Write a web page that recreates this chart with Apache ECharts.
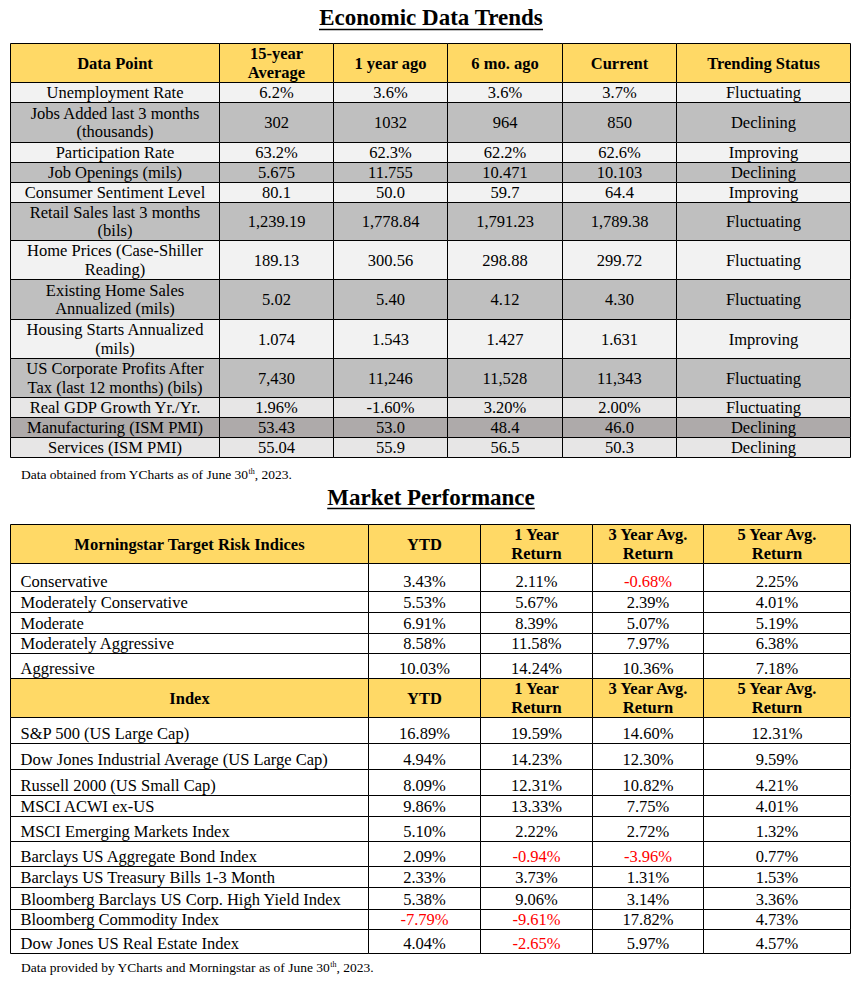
<!DOCTYPE html>
<html><head><meta charset="utf-8">
<script src="https://cdn.jsdelivr.net/npm/echarts@6/dist/echarts.min.js"></script>
<style>html,body{margin:0;padding:0;background:#fff}#chart{width:862px;height:981px}</style>
</head><body><div id="chart"></div><script>
const FONT = '"Liberation Serif", "Times New Roman", serif';

// ---------- DATA ----------
const econTitle = 'Economic Data Trends';
const econColumns = ['Data Point', '15-year\nAverage', '1 year ago', '6 mo. ago', 'Current', 'Trending Status'];
const econDataPoints = ['Unemployment Rate', 'Jobs Added last 3 months\n(thousands)', 'Participation Rate', 'Job Openings (mils)', 'Consumer Sentiment Level', 'Retail Sales last 3 months\n(bils)', 'Home Prices (Case-Shiller\nReading)', 'Existing Home Sales\nAnnualized (mils)', 'Housing Starts Annualized\n(mils)', 'US Corporate Profits After\nTax (last 12 months) (bils)', 'Real GDP Growth Yr./Yr.', 'Manufacturing (ISM PMI)', 'Services (ISM PMI)'];
const econAvg15 = ['6.2%', '302', '63.2%', '5.675', '80.1', '1,239.19', '189.13', '5.02', '1.074', '7,430', '1.96%', '53.43', '55.04'];
const econYearAgo = ['3.6%', '1032', '62.3%', '11.755', '50.0', '1,778.84', '300.56', '5.40', '1.543', '11,246', '-1.60%', '53.0', '55.9'];
const econSixMoAgo = ['3.6%', '964', '62.2%', '10.471', '59.7', '1,791.23', '298.88', '4.12', '1.427', '11,528', '3.20%', '48.4', '56.5'];
const econCurrent = ['3.7%', '850', '62.6%', '10.103', '64.4', '1,789.38', '299.72', '4.30', '1.631', '11,343', '2.00%', '46.0', '50.3'];
const econTrend = ['Fluctuating', 'Declining', 'Improving', 'Declining', 'Improving', 'Fluctuating', 'Fluctuating', 'Fluctuating', 'Improving', 'Fluctuating', 'Fluctuating', 'Declining', 'Declining'];
const econNote = ['Data obtained from YCharts as of June 30', 'th', ', 2023.'];

const marketTitle = 'Market Performance';
const riskColumns = ['Morningstar Target Risk Indices', 'YTD', '1 Year\nReturn', '3 Year Avg.\nReturn', '5 Year Avg.\nReturn'];
const riskIndices = ['Conservative', 'Moderately Conservative', 'Moderate', 'Moderately Aggressive', 'Aggressive'];
const riskYTD = ['3.43%', '5.53%', '6.91%', '8.58%', '10.03%'];
const risk1Y = ['2.11%', '5.67%', '8.39%', '11.58%', '14.24%'];
const risk3Y = ['-0.68%', '2.39%', '5.07%', '7.97%', '10.36%'];
const risk5Y = ['2.25%', '4.01%', '5.19%', '6.38%', '7.18%'];

const indexColumns = ['Index', 'YTD', '1 Year\nReturn', '3 Year Avg.\nReturn', '5 Year Avg.\nReturn'];
const indexNames = ['S&P 500 (US Large Cap)', 'Dow Jones Industrial Average (US Large Cap)', 'Russell 2000 (US Small Cap)', 'MSCI ACWI ex-US', 'MSCI Emerging Markets Index', 'Barclays US Aggregate Bond Index', 'Barclays US Treasury Bills 1-3 Month', 'Bloomberg Barclays US Corp. High Yield Index', 'Bloomberg Commodity Index', 'Dow Jones US Real Estate Index'];
const indexYTD = ['16.89%', '4.94%', '8.09%', '9.86%', '5.10%', '2.09%', '2.33%', '5.38%', '-7.79%', '4.04%'];
const index1Y = ['19.59%', '14.23%', '12.31%', '13.33%', '2.22%', '-0.94%', '3.73%', '9.06%', '-9.61%', '-2.65%'];
const index3Y = ['14.60%', '12.30%', '10.82%', '7.75%', '2.72%', '-3.96%', '1.31%', '3.14%', '17.82%', '5.97%'];
const index5Y = ['12.31%', '9.59%', '4.21%', '4.01%', '1.32%', '0.77%', '1.53%', '3.36%', '4.73%', '4.57%'];
const marketNote = ['Data provided by YCharts and Morningstar as of June 30', 'th', ', 2023.'];

// ---------- LAYOUT / STYLE ----------
const HEADER_FILL = '#FFD966';
const NEG_COLOR = '#FF0000';
const econColEdges = [10, 219, 333, 447, 562, 676, 850];
const econHeaderEdges = [43, 82];
const econRowEdges = [82, 102, 142, 162, 182, 202, 240, 279, 319, 358, 397, 417, 437, 457];
const econRowFills = ['#F2F2F2', '#BFBFBF', '#F2F2F2', '#BFBFBF', '#F2F2F2', '#BFBFBF', '#F2F2F2', '#BFBFBF', '#F2F2F2', '#BFBFBF', '#E7E6E6', '#AEAAAA', '#E7E6E6'];
const mktColEdges = [10, 368, 480, 592, 703, 850];
const riskHeaderEdges = [524, 563];
const riskRowEdges = [563, 591, 612, 633, 653, 678];
const indexHeaderEdges = [678, 717];
const indexRowEdges = [717, 743, 769, 795, 816, 841, 866, 887, 909, 929, 953];

const cells = [];
function addCell(x0, x1, y0, y1, text, opt) {
  cells.push(Object.assign({ x0: x0, x1: x1, y0: y0, y1: y1, text: text, fill: '#fff', align: 'center', valign: 'middle', bold: false, color: '#000' }, opt || {}));
}
// economic table
econColumns.forEach(function (t, c) {
  addCell(econColEdges[c], econColEdges[c + 1], econHeaderEdges[0], econHeaderEdges[1], t, { fill: HEADER_FILL, bold: true });
});
const econCols = [econDataPoints, econAvg15, econYearAgo, econSixMoAgo, econCurrent, econTrend];
econDataPoints.forEach(function (_, r) {
  econCols.forEach(function (col, c) {
    addCell(econColEdges[c], econColEdges[c + 1], econRowEdges[r], econRowEdges[r + 1], col[r], { fill: econRowFills[r] });
  });
});
// market tables
function addMarket(headers, headerEdges, rowEdges, cols) {
  headers.forEach(function (t, c) {
    addCell(mktColEdges[c], mktColEdges[c + 1], headerEdges[0], headerEdges[1], t, { fill: HEADER_FILL, bold: true });
  });
  cols[0].forEach(function (_, r) {
    cols.forEach(function (col, c) {
      const v = col[r];
      addCell(mktColEdges[c], mktColEdges[c + 1], rowEdges[r], rowEdges[r + 1], v, {
        align: c === 0 ? 'left' : 'center', valign: 'bottom',
        color: (c > 0 && v.charAt(0) === '-') ? NEG_COLOR : '#000'
      });
    });
  });
}
addMarket(riskColumns, riskHeaderEdges, riskRowEdges, [riskIndices, riskYTD, risk1Y, risk3Y, risk5Y]);
addMarket(indexColumns, indexHeaderEdges, indexRowEdges, [indexNames, indexYTD, index1Y, index3Y, index5Y]);

function renderItem(params, api) {
  const c = cells[params.dataIndex];
  const p0 = api.coord([api.value(0), api.value(1)]);
  const p1 = api.coord([api.value(2), api.value(3)]);
  const x0 = Math.round(p0[0]) + 0.5, y0 = Math.round(p0[1]) + 0.5;
  const x1 = Math.round(p1[0]) + 0.5, y1 = Math.round(p1[1]) + 0.5;
  const tx = c.align === 'left' ? x0 + 10 : (x0 + x1) / 2;
  const ty = c.valign === 'bottom' ? y1 - 10.5 : (y0 + y1) / 2;
  return {
    type: 'group',
    children: [
      { type: 'rect', shape: { x: x0, y: y0, width: x1 - x0, height: y1 - y0 }, style: { fill: c.fill, stroke: '#000', lineWidth: 1 } },
      { type: 'text', style: { text: c.text, x: tx, y: ty, align: c.align, verticalAlign: 'middle', fontFamily: FONT, fontSize: 16.5, fontWeight: c.bold ? 'bold' : 'normal', fill: c.color, lineHeight: 18.5 } }
    ]
  };
}

function measure(text, font) {
  const ctx = document.createElement('canvas').getContext('2d');
  ctx.font = font;
  return ctx.measureText(text).width;
}
const titleFont = 'bold 23px "Liberation Serif"';
const w1 = measure(econTitle, titleFont), w2 = measure(marketTitle, titleFont);

function note(parts, y) {
  return {
    type: 'text', x: 21, y: y,
    style: {
      text: '{a|' + parts[0] + '}{s|' + parts[1] + '}{a|' + parts[2] + '}',
      verticalAlign: 'middle',
      rich: {
        a: { fontFamily: FONT, fontSize: 13.5, fill: '#000', lineHeight: 14 },
        s: { fontFamily: FONT, fontSize: 8, fill: '#000', verticalAlign: 'top', lineHeight: 8 }
      }
    }
  };
}

const chart = echarts.init(document.getElementById('chart'), null, { renderer: 'svg' });
chart.setOption({
  animation: false,
  grid: { left: 0, right: 0, top: 0, bottom: 0 },
  xAxis: { type: 'value', min: 0, max: 862, show: false },
  yAxis: { type: 'value', min: 0, max: 981, inverse: true, show: false },
  series: [{
    type: 'custom', clip: false, silent: true,
    renderItem: renderItem,
    data: cells.map(function (c) { return [c.x0, c.y0, c.x1, c.y1]; })
  }],
  graphic: [
    { type: 'text', x: 431, y: 17.5, style: { text: econTitle, align: 'center', verticalAlign: 'middle', font: titleFont, fill: '#000' } },
    { type: 'line', shape: { x1: 431 - w1 / 2, y1: 29.5, x2: 431 + w1 / 2, y2: 29.5 }, style: { stroke: '#000', lineWidth: 1.6 } },
    note(econNote, 474.5),
    { type: 'text', x: 431, y: 497, style: { text: marketTitle, align: 'center', verticalAlign: 'middle', font: titleFont, fill: '#000' } },
    { type: 'line', shape: { x1: 431 - w2 / 2, y1: 508.5, x2: 431 + w2 / 2, y2: 508.5 }, style: { stroke: '#000', lineWidth: 1.6 } },
    note(marketNote, 967)
  ]
});
</script></body></html>
